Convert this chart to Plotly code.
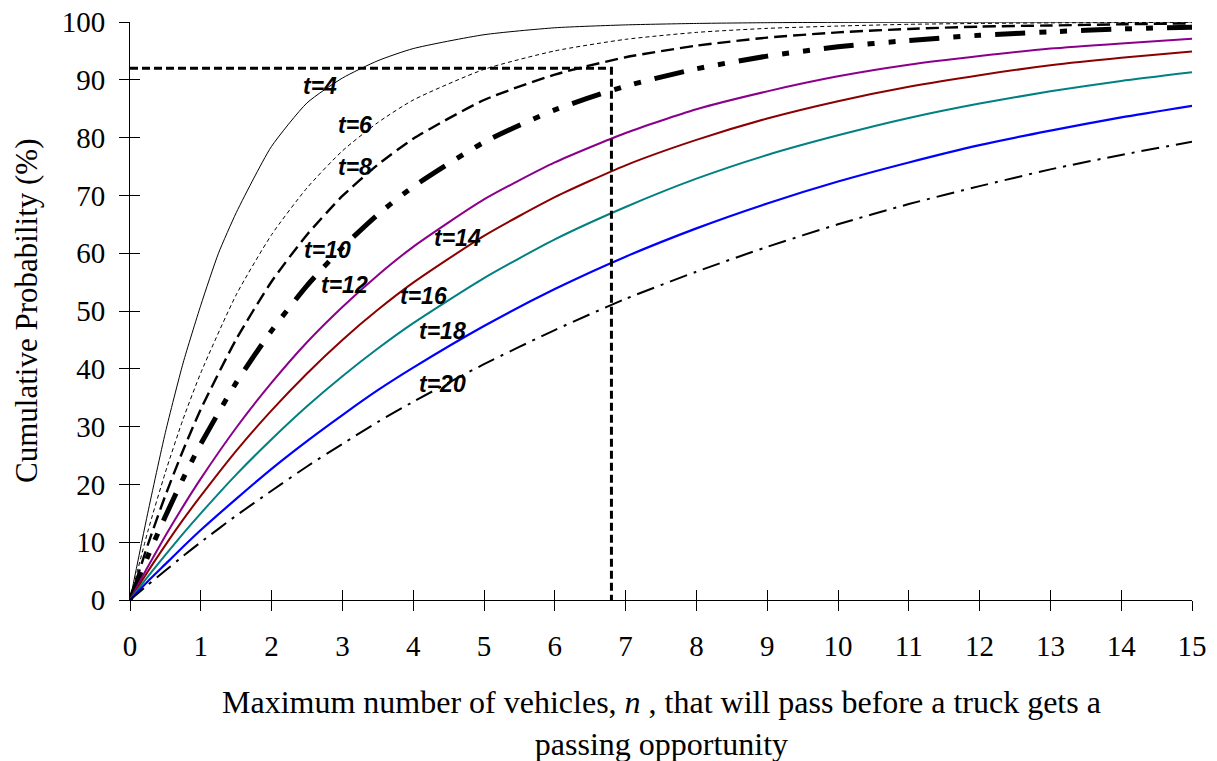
import plotly.graph_objects as go

# Maximum number of vehicles n (x values shared by the t=6 ... t=20 curves)
N = [0, 0.25, 0.5, 0.75, 1, 1.5, 2, 2.5, 3, 3.5, 4, 5, 6, 7, 8, 9, 10, 11, 12, 13, 14, 15]
# the steep t=4 curve is sampled more finely near the origin
N_T4 = [0, 0.25, 0.5, 0.75, 1, 1.25, 1.5, 1.75, 2, 2.5, 3, 3.5, 4, 5, 6, 7, 8, 9, 10, 11, 12, 13, 14, 15]

# Cumulative probability (%) for each value of t
P_T4 = [0, 15, 29, 41, 51, 60, 67, 73, 78.5, 86, 90.3, 93.3, 95.4, 97.8, 99.0, 99.5, 99.75, 99.88, 99.94, 99.97, 99.98, 99.99, 100, 100]
P_T6 = [0, 11.8, 22.1, 31.3, 39.3, 52.8, 63.2, 71.3, 77.7, 82.6, 86.5, 91.8, 95.0, 97.0, 98.2, 98.9, 99.3, 99.6, 99.75, 99.85, 99.9, 99.94]
P_T8 = [0, 9.5, 18.1, 25.9, 33.0, 45.1, 55.1, 63.2, 69.9, 75.3, 79.8, 86.5, 90.9, 93.9, 95.9, 97.3, 98.2, 98.8, 99.2, 99.4, 99.6, 99.75]
P_T10 = [0, 7.5, 14.5, 21.0, 27.0, 37.6, 46.6, 54.4, 61.0, 66.7, 71.5, 79.2, 84.8, 88.9, 91.9, 94.1, 95.7, 96.8, 97.7, 98.3, 98.8, 99.1]
P_T12 = [0, 5.7, 11.1, 16.2, 21.0, 29.8, 37.6, 44.6, 50.7, 56.2, 61.1, 69.3, 75.7, 80.8, 84.9, 88.0, 90.6, 92.6, 94.1, 95.4, 96.3, 97.1]
P_T14 = [0, 4.9, 9.5, 13.9, 18.0, 25.8, 32.8, 39.2, 45.0, 50.2, 54.9, 63.0, 69.7, 75.2, 79.6, 83.3, 86.3, 88.8, 90.8, 92.5, 93.8, 94.9]
P_T16 = [0, 4.0, 7.8, 11.5, 15.0, 21.7, 27.8, 33.5, 38.7, 43.5, 47.9, 55.7, 62.4, 68.0, 72.9, 77.0, 80.4, 83.4, 85.9, 88.0, 89.8, 91.3]
P_T18 = [0, 3.2, 6.2, 9.2, 12.1, 17.5, 22.7, 27.5, 32.0, 36.3, 40.2, 47.4, 53.8, 59.4, 64.3, 68.6, 72.4, 75.7, 78.7, 81.2, 83.5, 85.5]
P_T20 = [0, 2.6, 5.1, 7.6, 10.0, 14.6, 18.9, 23.1, 27.0, 30.8, 34.3, 40.8, 46.7, 52.1, 56.8, 61.1, 65.0, 68.5, 71.6, 74.5, 77.0, 79.3]

T_LABELS = ["t=4", "t=6", "t=8", "t=10", "t=12", "t=14", "t=16", "t=18", "t=20"]

# Worked example: 92 % probability read at n = 6.8
REF_N = 6.8
REF_P = 92

X_TICKS = list(range(0, 16))
Y_TICKS = list(range(0, 101, 10))

# line styles: (colour, width, dash)
STYLES = [
    ("black", 1, "solid"),
    ("black", 1, "4px,3px"),
    ("black", 2.4, "13px,6px"),
    ("black", 5, "30px,14px,7px,14px,7px,14px"),
    ("#8B008B", 2, "solid"),
    ("#8B0000", 2, "solid"),
    ("#008080", 2, "solid"),
    ("#0000FF", 2.2, "solid"),
    ("black", 2, "18px,7px,3px,7px"),
]

# curve label anchor points (n, %)
LABEL_POS = [
    (2.68, 88.9), (3.18, 82.2), (3.18, 74.9), (2.79, 60.6), (3.03, 54.5),
    (4.62, 62.6), (4.14, 52.6), (4.42, 46.5), (4.42, 37.4),
]

SERIES = [(N_T4, P_T4), (N, P_T6), (N, P_T8), (N, P_T10), (N, P_T12),
          (N, P_T14), (N, P_T16), (N, P_T18), (N, P_T20)]

fig = go.Figure()

for (xs, vals), (col, wid, dash), name in zip(SERIES, STYLES, T_LABELS):
    fig.add_trace(go.Scatter(
        x=xs, y=vals, mode="lines", name=name,
        line=dict(color=col, width=wid, dash=dash, shape="spline", smoothing=0.6),
        showlegend=False,
    ))

fig.add_trace(go.Scatter(
    x=[0, REF_N, REF_N], y=[REF_P, REF_P, 0], mode="lines",
    line=dict(color="black", width=3, dash="8px,4px"),
    showlegend=False, hoverinfo="skip",
))

# helper traces so the mirrored tick axes are drawn
fig.add_trace(go.Scatter(x=[0], y=[0], xaxis="x2", yaxis="y", mode="markers",
                         marker=dict(opacity=0), showlegend=False, hoverinfo="skip"))
fig.add_trace(go.Scatter(x=[0], y=[0], xaxis="x", yaxis="y2", mode="markers",
                         marker=dict(opacity=0), showlegend=False, hoverinfo="skip"))

for (lx, ly), txt in zip(LABEL_POS, T_LABELS):
    fig.add_annotation(
        x=lx, y=ly, text=txt, showarrow=False, xanchor="center", yanchor="middle",
        font=dict(family="Liberation Sans, Arial", size=23, color="black",
                  weight="bold", style="italic"),
    )

serif = "Liberation Serif, Times New Roman, serif"

fig.add_annotation(
    xref="paper", yref="paper", x=0.5, y=-0.213, xanchor="center", yanchor="middle",
    text="Maximum number of vehicles, <i>n</i> , that will pass before a truck gets a<br>passing opportunity",
    showarrow=False, font=dict(family=serif, size=32, color="black"),
)
fig.add_annotation(
    xref="paper", yref="paper", x=-0.098, y=0.5, xanchor="center", yanchor="middle",
    text="Cumulative Probability (%)", textangle=-90,
    showarrow=False, font=dict(family=serif, size=31, color="black"),
)

axis_common = dict(showgrid=False, zeroline=False, tickcolor="black", tickwidth=1,
                   ticklen=10, automargin=False)

fig.update_layout(
    width=1217, height=761,
    margin=dict(l=130, r=25, t=22, b=161),
    plot_bgcolor="white", paper_bgcolor="white",
    showlegend=False,
    xaxis=dict(range=[0, 15], tickvals=X_TICKS, ticks="outside", showline=True,
               linecolor="black", linewidth=1, ticklabelstandoff=10,
               tickfont=dict(family=serif, size=29, color="black"), **axis_common),
    yaxis=dict(range=[0, 100], tickvals=Y_TICKS, ticks="outside", showline=True,
               linecolor="black", linewidth=1, ticklabelstandoff=8,
               tickfont=dict(family=serif, size=29, color="black"), **axis_common),
    xaxis2=dict(range=[0, 15], tickvals=X_TICKS, ticks="inside", overlaying="x",
                anchor="y", side="bottom", showticklabels=False, showline=False,
                **axis_common),
    yaxis2=dict(range=[0, 100], tickvals=Y_TICKS, ticks="inside", overlaying="y",
                anchor="x", side="left", showticklabels=False, showline=False,
                **axis_common),
)

fig.write_html("out.html")
